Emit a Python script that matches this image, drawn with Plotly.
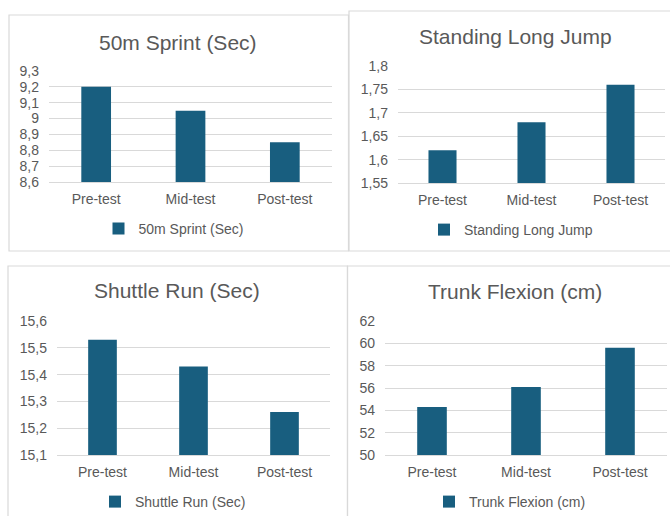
import plotly.graph_objects as go

W, H = 670, 516

# Test phases and measured results
phases = ["Pre-test", "Mid-test", "Post-test"]
sprint_50m = [9.20, 9.05, 8.85]
long_jump = [1.62, 1.68, 1.76]
shuttle_run = [15.53, 15.43, 15.26]
trunk_flexion = [54.3, 56.1, 59.6]

series = [sprint_50m, long_jump, shuttle_run, trunk_flexion]
titles = ["50m Sprint (Sec)", "Standing Long Jump", "Shuttle Run (Sec)", "Trunk Flexion (cm)"]
y_ranges = [(8.6, 9.3), (1.55, 1.8), (15.1, 15.6), (50, 62)]
y_steps = [0.1, 0.05, 0.1, 2]

BAR = "#185E7F"
TEXT = "#595959"
GRID = "#D9D9D9"
FONT = "Arial, Liberation Sans, sans-serif"

# Pixel layout of each chart card: frame, plot area, title and legend centres
cards = [
    dict(frame=(9, 15, 348.5, 251), plot=(49, 71, 332, 182), title=(178, 42), legend=(174, 229)),
    dict(frame=(349, 11, 690, 251), plot=(398, 66, 665, 183), title=(515, 36), legend=(511, 230)),
    dict(frame=(8, 266, 347.5, 530), plot=(57, 321, 330, 455), title=(177, 290), legend=(173, 502)),
    dict(frame=(347.5, 266, 690, 530), plot=(385, 321, 667, 455), title=(515, 291), legend=(510, 502)),
]


def px(x):
    return x / W


def py(y):
    return 1 - y / H


fig = go.Figure()
layout = dict(
    width=W, height=H,
    margin=dict(l=0, r=0, t=0, b=0, autoexpand=False),
    paper_bgcolor="white", plot_bgcolor="white",
    separators=",.",
    bargap=0.685,
    font=dict(family=FONT, color=TEXT, size=14),
    shapes=[], annotations=[],
)

for i, (vals, title, yr, step, card) in enumerate(zip(series, titles, y_ranges, y_steps, cards)):
    n = i + 1
    xa = "x" if n == 1 else f"x{n}"
    ya = "y" if n == 1 else f"y{n}"
    lg = "legend" if n == 1 else f"legend{n}"
    fig.add_trace(go.Bar(
        x=phases, y=vals, name=title,
        marker=dict(color=BAR, line=dict(width=0)),
        xaxis=xa, yaxis=ya, legend=lg,
        showlegend=True,
    ))
    x0, y0, x1, y1 = card["plot"]
    layout[f"xaxis{n}"] = dict(
        domain=[px(x0), px(x1)], anchor=ya,
        showgrid=False, showline=True, linecolor=GRID, linewidth=1,
        ticks="", tickfont=dict(size=14, color=TEXT), ticklabelstandoff=4,
        fixedrange=True,
    )
    layout[f"yaxis{n}"] = dict(
        domain=[py(y1), py(y0)], anchor=xa,
        range=list(yr), dtick=step, tick0=yr[0],
        showgrid=True, gridcolor=GRID, gridwidth=1, zeroline=False,
        showline=False, ticks="", tickfont=dict(size=14, color=TEXT),
        ticklabelstandoff=9, fixedrange=True,
    )
    fx0, fy0, fx1, fy1 = card["frame"]
    layout["shapes"].append(dict(
        type="rect", xref="paper", yref="paper",
        x0=px(fx0), x1=px(fx1), y0=py(fy1), y1=py(fy0),
        line=dict(color=GRID, width=1.2), fillcolor="rgba(0,0,0,0)", layer="below",
    ))
    tx, ty = card["title"]
    layout["annotations"].append(dict(
        text=title, xref="paper", yref="paper", x=px(tx), y=py(ty),
        xanchor="center", yanchor="middle", showarrow=False,
        font=dict(size=21, color=TEXT, family=FONT),
    ))
    lx, ly = card["legend"]
    layout[lg] = dict(
        x=px(lx), y=py(ly), xanchor="center", yanchor="middle",
        orientation="h", bgcolor="rgba(0,0,0,0)", borderwidth=0,
        font=dict(size=14, color=TEXT, family=FONT), itemwidth=30,
    )

fig.update_layout(**layout)
fig.write_html("out.html")
